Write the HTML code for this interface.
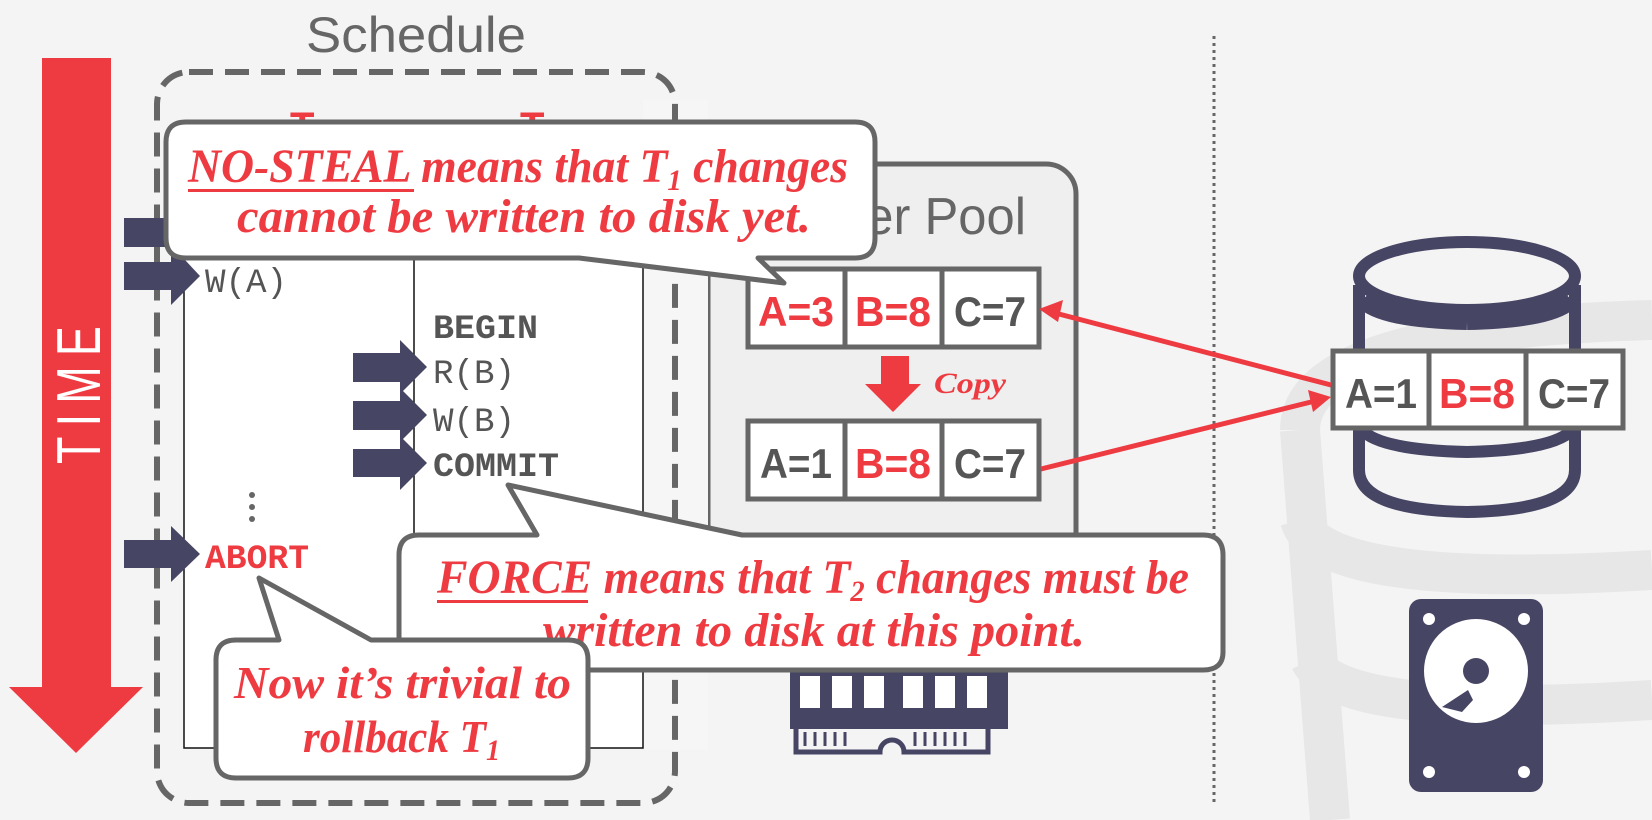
<!DOCTYPE html>
<html><head><meta charset="utf-8"><style>html,body{margin:0;padding:0;background:#f4f4f4}svg{display:block}</style></head>
<body>
<svg width="1652" height="820" viewBox="0 0 1652 820" xmlns="http://www.w3.org/2000/svg">
<rect width="1652" height="820" fill="#f4f4f4"/>
<g fill="none" stroke="#e7e7e7" stroke-width="40">
<path d="M1300 430 Q1300 330 1652 320"/>
<path d="M1300 520 Q1320 590 1652 570"/>
<path d="M1310 660 Q1340 720 1652 700"/>
<path d="M1300 430 L1330 820"/>
</g>
<line x1="1214" y1="36" x2="1214" y2="805" stroke="#666" stroke-width="3" stroke-dasharray="3,4"/>
<text x="416" y="52" text-anchor="middle" font-family="Liberation Sans, sans-serif" font-size="50" fill="#666" font-weight="300" textLength="220" lengthAdjust="spacingAndGlyphs">Schedule</text>
<rect x="42" y="58" width="69" height="630" fill="#ee3b42"/>
<polygon points="9,687 143,687 76,753" fill="#ee3b42"/>
<text transform="translate(100,390) rotate(-90)" text-anchor="middle" font-family="Liberation Sans, sans-serif" font-size="62" fill="#fff" letter-spacing="14" textLength="148" lengthAdjust="spacingAndGlyphs">TIME</text>
<rect x="708" y="164" width="368" height="420" rx="30" fill="#efefef" stroke="#666" stroke-width="5"/>
<text x="1026" y="234" text-anchor="end" font-family="Liberation Sans, sans-serif" font-size="52" fill="#666" textLength="250" lengthAdjust="spacingAndGlyphs">Buffer Pool</text>
<rect x="643" y="100" width="65" height="650" fill="#f6f6f6"/>
<rect x="157" y="72" width="518" height="731" rx="32" fill="none" stroke="#666" stroke-width="6" stroke-dasharray="24,12"/>
<rect x="184" y="230" width="459" height="518" fill="#fff" stroke="#111" stroke-width="1.5"/>
<line x1="414" y1="230" x2="414" y2="748" stroke="#111" stroke-width="1.5"/>
<text x="290" y="140" font-family="Liberation Sans, sans-serif" font-weight="bold" font-size="40" fill="#ee3b42">T</text>
<text x="520" y="140" font-family="Liberation Sans, sans-serif" font-weight="bold" font-size="40" fill="#ee3b42">T</text>
<g fill="#474564">
<rect x="124" y="218" width="50" height="29"/><polygon points="171,203 200,232 171,261"/>
<rect x="124" y="262" width="50" height="28"/><polygon points="171,245 200,276 171,305"/>
<rect x="353" y="353" width="50" height="29"/><polygon points="400,340 427,367 400,394"/>
<rect x="353" y="401" width="50" height="29"/><polygon points="400,388 427,415 400,442"/>
<rect x="353" y="449" width="50" height="28"/><polygon points="400,436 427,463 400,490"/>
<rect x="124" y="540" width="50" height="28"/><polygon points="171,526 200,554 171,582"/>
</g>
<g font-family="Liberation Mono, monospace" font-size="34" fill="#555">
<text x="205" y="292" textLength="82" lengthAdjust="spacingAndGlyphs">W(A)</text>
<text x="433" y="338" font-weight="bold" textLength="105" lengthAdjust="spacingAndGlyphs">BEGIN</text>
<text x="433" y="383" textLength="82" lengthAdjust="spacingAndGlyphs">R(B)</text>
<text x="433" y="431" textLength="82" lengthAdjust="spacingAndGlyphs">W(B)</text>
<text x="433" y="476" font-weight="bold" textLength="126" lengthAdjust="spacingAndGlyphs">COMMIT</text>
<text x="205" y="568" font-weight="bold" fill="#ee3b42" textLength="104" lengthAdjust="spacingAndGlyphs">ABORT</text>
</g>
<g fill="#666"><circle cx="252" cy="495" r="3"/><circle cx="252" cy="507" r="3"/><circle cx="252" cy="519" r="3"/></g>
<g fill="#474564">
<rect x="790" y="669" width="218" height="60"/>
</g>
<g fill="#fff">
<rect x="800" y="676" width="20" height="32"/><rect x="832" y="676" width="20" height="32"/><rect x="864" y="676" width="20" height="32"/><rect x="903" y="676" width="20" height="32"/><rect x="935" y="676" width="20" height="32"/><rect x="967" y="676" width="20" height="32"/>
</g>
<path d="M796 729 V752 H880 A12 12 0 0 1 904 752 H988 V729" fill="none" stroke="#474564" stroke-width="5"/>
<g stroke="#474564" stroke-width="3"><line x1="805" y1="732" x2="805" y2="746"/><line x1="815" y1="732" x2="815" y2="746"/><line x1="825" y1="732" x2="825" y2="746"/><line x1="835" y1="732" x2="835" y2="746"/><line x1="845" y1="732" x2="845" y2="746"/><line x1="915" y1="732" x2="915" y2="746"/><line x1="925" y1="732" x2="925" y2="746"/><line x1="935" y1="732" x2="935" y2="746"/><line x1="945" y1="732" x2="945" y2="746"/><line x1="955" y1="732" x2="955" y2="746"/><line x1="965" y1="732" x2="965" y2="746"/></g>
<g stroke="#666" stroke-width="5" fill="#fff">
<rect x="748" y="269" width="97" height="78"/><rect x="845" y="269" width="97" height="78"/><rect x="942" y="269" width="97" height="78"/>
<rect x="748" y="421" width="97" height="78"/><rect x="845" y="421" width="97" height="78"/><rect x="942" y="421" width="97" height="78"/>
</g>
<g font-family="Liberation Sans, sans-serif" font-weight="bold" font-size="42" text-anchor="middle">
<text x="796" y="326" fill="#ee3b42" textLength="76" lengthAdjust="spacingAndGlyphs">A=3</text>
<text x="893" y="326" fill="#ee3b42" textLength="76" lengthAdjust="spacingAndGlyphs">B=8</text>
<text x="990" y="326" fill="#555" textLength="72" lengthAdjust="spacingAndGlyphs">C=7</text>
<text x="796" y="478" fill="#555" textLength="72" lengthAdjust="spacingAndGlyphs">A=1</text>
<text x="893" y="478" fill="#ee3b42" textLength="76" lengthAdjust="spacingAndGlyphs">B=8</text>
<text x="990" y="478" fill="#555" textLength="72" lengthAdjust="spacingAndGlyphs">C=7</text>
</g>
<rect x="881" y="356" width="28" height="28" fill="#ee3b42"/>
<polygon points="865,384 921,384 893,412" fill="#ee3b42"/>
<text x="934" y="393" font-family="Liberation Serif, serif" font-style="italic" font-weight="bold" font-size="30" fill="#ee3b42" textLength="72" lengthAdjust="spacingAndGlyphs">Copy</text>
<g fill="none" stroke="#474564" stroke-width="12">
<ellipse cx="1467" cy="276" rx="108" ry="34"/>
<path d="M1359 285 V470 Q1359 510 1467 512 Q1575 510 1575 470 V285"/>
<path d="M1362 300 Q1380 320 1467 322" stroke-width="16"/>
<path d="M1572 300 Q1554 320 1467 322" stroke-width="16"/>
<path d="M1362 430 Q1380 450 1467 452 Q1554 450 1572 430"/>
</g>
<g stroke="#666" stroke-width="5" fill="#fff">
<rect x="1333" y="351" width="96" height="77"/><rect x="1429" y="351" width="97" height="77"/><rect x="1526" y="351" width="97" height="77"/>
</g>
<g font-family="Liberation Sans, sans-serif" font-weight="bold" font-size="42" text-anchor="middle">
<text x="1381" y="408" fill="#555" textLength="72" lengthAdjust="spacingAndGlyphs">A=1</text>
<text x="1477" y="408" fill="#ee3b42" textLength="76" lengthAdjust="spacingAndGlyphs">B=8</text>
<text x="1574" y="408" fill="#555" textLength="72" lengthAdjust="spacingAndGlyphs">C=7</text>
</g>
<g stroke="#ee3b42" stroke-width="5" fill="#ee3b42">
<line x1="1331" y1="385" x2="1055" y2="313"/>
<polygon points="1039,309 1063,300 1058,322" stroke="none"/>
<line x1="1041" y1="469" x2="1315" y2="401"/>
<polygon points="1331,397 1308,390 1313,412" stroke="none"/>
</g>
<rect x="1409" y="599" width="134" height="193" rx="12" fill="#474564"/>
<circle cx="1476" cy="671" r="52" fill="#fff"/>
<circle cx="1476" cy="671" r="13" fill="#474564"/>
<path d="M1442 707 L1468 690 L1473 700 L1462 712 Z" fill="#474564"/>
<g fill="#fff"><circle cx="1429" cy="619" r="6"/><circle cx="1524" cy="619" r="6"/><circle cx="1429" cy="772" r="6"/><circle cx="1524" cy="772" r="6"/></g>
<path d="M186 122 H855 Q875 122 875 142 V238 Q875 258 855 258 H758 L784 283 L579 258 H186 Q166 258 166 238 V142 Q166 122 186 122 Z" fill="#fff" stroke="#666" stroke-width="5" stroke-linejoin="round"/>
<g font-family="Liberation Serif, serif" font-style="italic" font-weight="bold" font-size="48" fill="#ee3b42">
<text x="188" y="182" textLength="660" lengthAdjust="spacingAndGlyphs">NO-STEAL means that T<tspan font-size="30" dy="8">1</tspan><tspan dy="-8"> changes</tspan></text>
<text x="237" y="232" textLength="574" lengthAdjust="spacingAndGlyphs">cannot be written to disk yet.</text>
</g>
<rect x="188" y="189" width="226" height="3" fill="#ee3b42"/>
<path d="M419 535 H537 L508 485 L742 535 H1203 Q1223 535 1223 555 V652 Q1223 670 1203 670 H419 Q399 670 399 652 V555 Q399 535 419 535 Z" fill="#fff" stroke="#666" stroke-width="5" stroke-linejoin="round"/>
<g font-family="Liberation Serif, serif" font-style="italic" font-weight="bold" font-size="48" fill="#ee3b42">
<text x="437" y="593" textLength="752" lengthAdjust="spacingAndGlyphs">FORCE means that T<tspan font-size="30" dy="8">2</tspan><tspan dy="-8"> changes must be</tspan></text>
<text x="543" y="646" textLength="542" lengthAdjust="spacingAndGlyphs">written to disk at this point.</text>
</g>
<rect x="437" y="600" width="151" height="3" fill="#ee3b42"/>
<path d="M236 640 H279 L259 578 L371 640 H568 Q588 640 588 660 V758 Q588 778 568 778 H236 Q216 778 216 758 V660 Q216 640 236 640 Z" fill="#fff" stroke="#666" stroke-width="5" stroke-linejoin="round"/>
<g font-family="Liberation Serif, serif" font-style="italic" font-weight="bold" font-size="46" fill="#ee3b42">
<text x="234" y="698" textLength="337" lengthAdjust="spacingAndGlyphs">Now it’s trivial to</text>
<text x="303" y="752" textLength="197" lengthAdjust="spacingAndGlyphs">rollback T<tspan font-size="30" dy="8">1</tspan></text>
</g>
</svg>
</body></html>
